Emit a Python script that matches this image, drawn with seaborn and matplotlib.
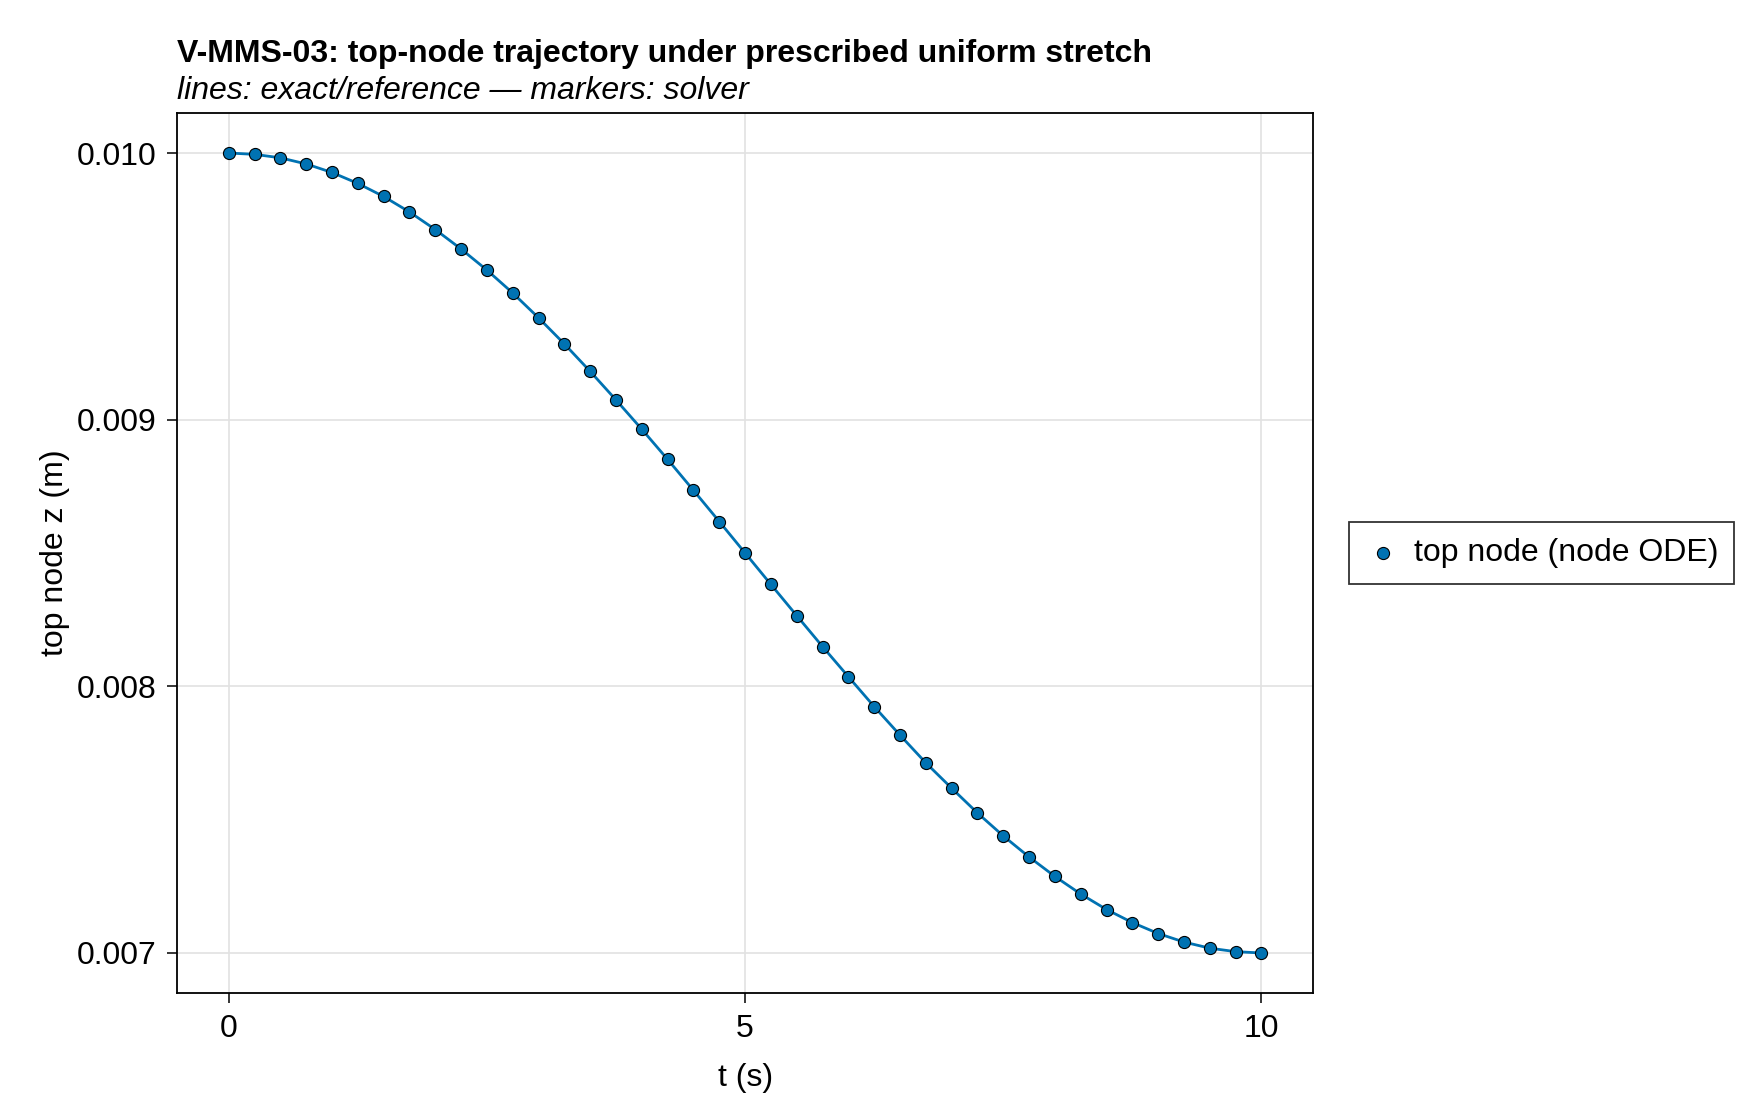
import numpy as np
import pandas as pd
import seaborn as sns
import matplotlib.pyplot as plt

# values (top-node z in metres, every 0.25 s)
t_s = [0.0, 0.25, 0.5, 0.75, 1.0, 1.25, 1.5, 1.75, 2.0, 2.25,
       2.5, 2.75, 3.0, 3.25, 3.5, 3.75, 4.0, 4.25, 4.5, 4.75,
       5.0, 5.25, 5.5, 5.75, 6.0, 6.25, 6.5, 6.75, 7.0, 7.25,
       7.5, 7.75, 8.0, 8.25, 8.5, 8.75, 9.0, 9.25, 9.5, 9.75, 10.0]
z_top = [0.010000, 0.009995, 0.009982, 0.009959, 0.009927, 0.009886, 0.009837, 0.009779, 0.009713, 0.009640,
         0.009561, 0.009475, 0.009382, 0.009284, 0.009181, 0.009074, 0.008964, 0.008851, 0.008735, 0.008618,
         0.008500, 0.008382, 0.008265, 0.008149, 0.008036, 0.007924, 0.007817, 0.007713, 0.007618, 0.007525,
         0.007439, 0.007360, 0.007287, 0.007221, 0.007163, 0.007114, 0.007073, 0.007041, 0.007018, 0.007005, 0.007000]

xticks = [0, 5, 10]
yticks = [0.007, 0.008, 0.009, 0.010]

df = pd.DataFrame({'t': t_s, 'z': z_top})

sns.set_style('white')
plt.rcParams['font.family'] = ['Liberation Sans', 'DejaVu Sans']
plt.rcParams['text.color'] = 'black'
plt.rcParams['axes.labelcolor'] = 'black'
plt.rcParams['xtick.color'] = 'black'
plt.rcParams['ytick.color'] = 'black'
blue = '#0072B2'
fs = 23

fig = plt.figure(figsize=(17.6, 11.2), dpi=100)
ax = fig.add_axes([0.1006, 0.1134, 0.6455, 0.7857])

sns.lineplot(data=df, x='t', y='z', ax=ax, color=blue, linewidth=2.0, zorder=2)
sns.scatterplot(data=df, x='t', y='z', ax=ax, color=blue, s=76, edgecolor='black',
                linewidth=0.8, zorder=3, label='top node (node ODE)')

ax.set_xlim(-0.5, 10.5)
ax.set_ylim(0.00685, 0.01015)
ax.set_xticks(xticks)
ax.set_yticks(yticks)
ax.set_yticklabels([f'{v:.3f}' for v in yticks])
ax.grid(True, color='#e2e2e2', linewidth=1.2)
ax.set_axisbelow(True)
for sp in ax.spines.values():
    sp.set_color('black')
    sp.set_linewidth(1.3)
ax.tick_params(direction='out', length=7, width=1.1, labelsize=fs, pad=8,
               left=True, bottom=True, color='black')

ax.set_xlabel('t (s)', fontsize=fs, labelpad=14)
ax.set_ylabel('top node z (m)', fontsize=fs, labelpad=5)

fig.text(0.1006, 0.952, 'V-MMS-03: top-node trajectory under prescribed uniform stretch',
         fontsize=fs, fontweight='bold', ha='left', va='center')
fig.text(0.1006, 0.919, 'lines: exact/reference \u2014 markers: solver',
         fontsize=fs, style='italic', ha='left', va='center')

ax.get_legend().remove()
handles, labels = ax.get_legend_handles_labels()
leg = fig.legend(handles, labels, loc='center left', bbox_to_anchor=(0.7665, 0.506),
                 fontsize=fs, frameon=True, fancybox=False, borderpad=0.5,
                 borderaxespad=0, handlelength=1.1, handletextpad=0.42,
                 markerscale=1.0)
leg.get_frame().set_edgecolor('black')
leg.get_frame().set_linewidth(1.3)

fig.savefig('out.png', dpi=100)
